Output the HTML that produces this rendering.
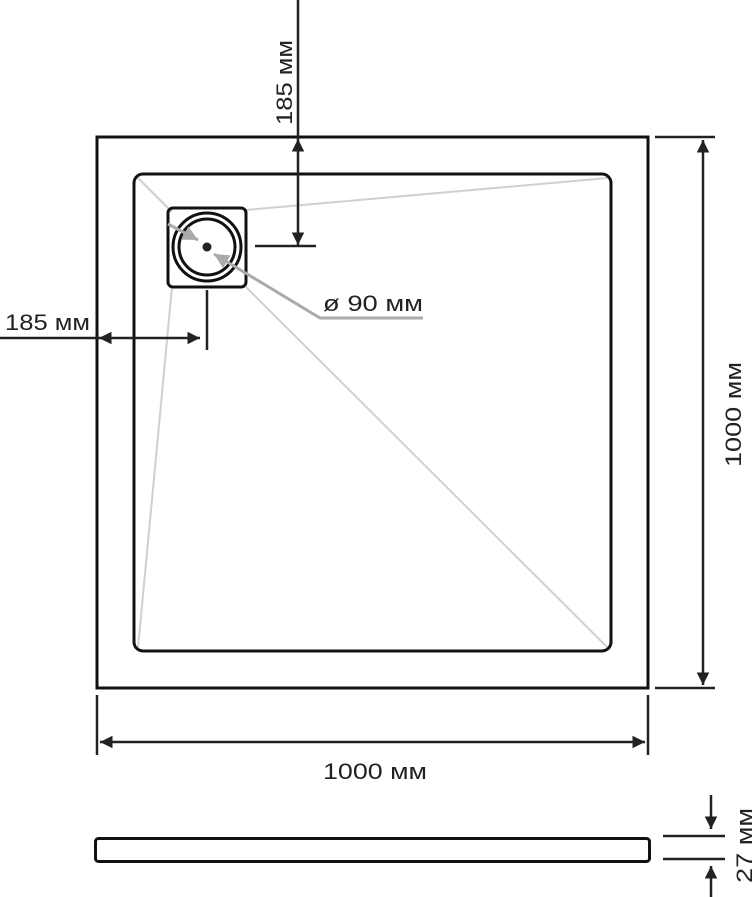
<!DOCTYPE html>
<html><head><meta charset="utf-8"><style>body{margin:0;background:#fff}svg{display:block}text{font-family:"Liberation Sans",sans-serif;fill:#222}</style></head><body>
<svg width="754" height="897" viewBox="0 0 754 897" xmlns="http://www.w3.org/2000/svg">
<defs>
<marker id="a" viewBox="0 0 10 10" refX="10" refY="5" markerWidth="5" markerHeight="5" orient="auto-start-reverse"><path d="M0,0L10,5L0,10z" fill="#222"/></marker>
<marker id="g" viewBox="0 0 10 10" refX="10" refY="5" markerWidth="5" markerHeight="5" orient="auto-start-reverse"><path d="M0,0L10,5L0,10z" fill="#aaa"/></marker>
</defs>
<g stroke="#d0d0d0" stroke-width="2">
<line x1="138" y1="178" x2="172" y2="212"/>
<line x1="608" y1="178" x2="246" y2="210"/>
<line x1="138" y1="648" x2="172" y2="287"/>
<line x1="608" y1="648" x2="246" y2="287"/>
</g>
<rect x="97" y="137" width="551" height="551" fill="none" stroke="#111" stroke-width="3"/>
<rect x="134" y="174" width="477" height="477" rx="9" fill="none" stroke="#111" stroke-width="3"/>
<rect x="168" y="208" width="78" height="79" rx="5" fill="none" stroke="#111" stroke-width="3"/>
<circle cx="207" cy="247" r="34" fill="none" stroke="#111" stroke-width="3"/>
<circle cx="207" cy="247" r="28" fill="none" stroke="#111" stroke-width="3"/>
<circle cx="207" cy="247" r="4.5" fill="#222"/>
<line x1="168" y1="224" x2="198" y2="240" stroke="#aaa" stroke-width="3" marker-end="url(#g)"/>
<polyline points="423,318 320,318 214,254" fill="none" stroke="#aaa" stroke-width="3" marker-end="url(#g)"/>
<text x="323" y="311" font-size="22" textLength="100" lengthAdjust="spacingAndGlyphs">ø 90 мм</text>
<g stroke="#222" stroke-width="2.5" fill="none">
<line x1="298" y1="0" x2="298" y2="139"/>
<line x1="298" y1="139" x2="298" y2="245" marker-start="url(#a)" marker-end="url(#a)"/>
<line x1="255" y1="246" x2="316" y2="246"/>
<line x1="0" y1="338" x2="99" y2="338"/>
<line x1="99" y1="338" x2="200" y2="338" marker-start="url(#a)" marker-end="url(#a)"/>
<line x1="207" y1="290" x2="207" y2="350"/>
<line x1="655" y1="137" x2="715" y2="137"/>
<line x1="655" y1="688" x2="715" y2="688"/>
<line x1="703" y1="140" x2="703" y2="685" marker-start="url(#a)" marker-end="url(#a)"/>
<line x1="97" y1="695" x2="97" y2="755"/>
<line x1="648" y1="695" x2="648" y2="755"/>
<line x1="100" y1="742" x2="645" y2="742" marker-start="url(#a)" marker-end="url(#a)"/>
<line x1="663" y1="836" x2="725" y2="836"/>
<line x1="663" y1="859" x2="725" y2="859"/>
<line x1="711" y1="795" x2="711" y2="829" marker-end="url(#a)"/>
<line x1="711" y1="897" x2="711" y2="866" marker-end="url(#a)"/>
</g>
<rect x="95.5" y="838.5" width="554" height="23" rx="3" fill="none" stroke="#111" stroke-width="3"/>
<text font-size="22" textLength="85" lengthAdjust="spacingAndGlyphs" transform="translate(292,125) rotate(-90)">185 мм</text>
<text x="5" y="330" font-size="22" textLength="85" lengthAdjust="spacingAndGlyphs">185 мм</text>
<text font-size="22" textLength="105" lengthAdjust="spacingAndGlyphs" transform="translate(741,467) rotate(-90)">1000 мм</text>
<text x="323" y="779" font-size="22" textLength="104" lengthAdjust="spacingAndGlyphs">1000 мм</text>
<text font-size="22" textLength="75" lengthAdjust="spacingAndGlyphs" transform="translate(752,883) rotate(-90)">27 мм</text>
</svg>
</body></html>
